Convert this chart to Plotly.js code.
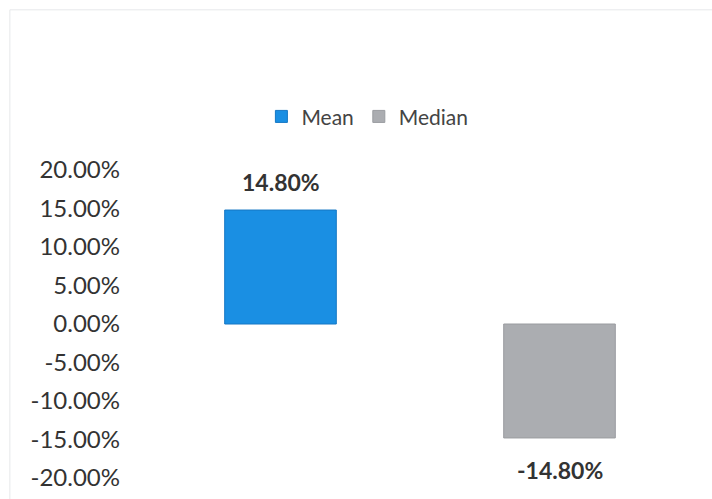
<!DOCTYPE html>
<html>
<head>
<meta charset="utf-8">
<script src="https://cdn.plot.ly/plotly-3.0.1.min.js"></script>
<style>html,body{margin:0;padding:0;background:#fff;}#chart{width:712px;height:499px;}</style>
</head>
<body>
<div id="chart"></div>
<script>
var categories = ["Mean", "Median"];
var meanValues = [0.148, null];
var medianValues = [null, -0.148];
var tickValues = [-0.2, -0.15, -0.1, -0.05, 0, 0.05, 0.1, 0.15, 0.2];
var tickLabels = ["-20.00%", "-15.00%", "-10.00%", "-5.00%", "0.00%", "5.00%", "10.00%", "15.00%", "20.00%"];

function fmt(v) { return (v * 100).toFixed(2) + "%"; }

var FONT = "Lato, 'Open Sans', sans-serif";

var traces = [
  {
    type: "bar", name: "Mean", x: categories, y: meanValues,
    marker: {color: "#1a8fe3", line: {color: "#1577c4", width: 1}},
    width: 0.4, hoverinfo: "none"
  },
  {
    type: "bar", name: "Median", x: categories, y: medianValues,
    marker: {color: "#abadb1", line: {color: "#9a9ca0", width: 1}},
    width: 0.4, hoverinfo: "none"
  }
];

var annotations = [];
[meanValues, medianValues].forEach(function (arr) {
  arr.forEach(function (v, i) {
    if (v === null) return;
    annotations.push({
      x: categories[i], y: v, xref: "x", yref: "y",
      text: fmt(v), showarrow: false,
      yanchor: v >= 0 ? "bottom" : "top",
      yshift: v >= 0 ? 12 : -16,
      font: {family: FONT, size: 23, color: "#333333", weight: "bold"}
    });
  });
});

var layout = {
  width: 712, height: 499,
  margin: {l: 141, r: 13, t: 170, b: 21},
  paper_bgcolor: "#ffffff", plot_bgcolor: "#ffffff",
  barmode: "overlay",
  showlegend: true,
  legend: {
    orientation: "h", xref: "container", yref: "container",
    x: 0.516, xanchor: "center", y: 0.766, yanchor: "middle",
    font: {family: FONT, size: 21, color: "#444444"},
    itemwidth: 30, tracegroupgap: 0
  },
  xaxis: {showticklabels: false, showgrid: false, zeroline: false, showline: false, ticks: ""},
  yaxis: {
    range: [-0.2, 0.2], tickvals: tickValues, ticktext: tickLabels,
    showgrid: false, zeroline: false, showline: false, ticks: "",
    ticklabelstandoff: 20,
    tickfont: {family: FONT, size: 24, color: "#333333"}
  },
  annotations: annotations,
  shapes: [
    {type: "rect", xref: "paper", yref: "paper", x0: -0.235, x1: 1.03, y0: -0.1, y1: 1.52,
     line: {color: "#e6e8ea", width: 1}, fillcolor: "rgba(0,0,0,0)", layer: "below"}
  ]
};

Plotly.newPlot("chart", traces, layout, {displayModeBar: false, staticPlot: true});
</script>
</body>
</html>
